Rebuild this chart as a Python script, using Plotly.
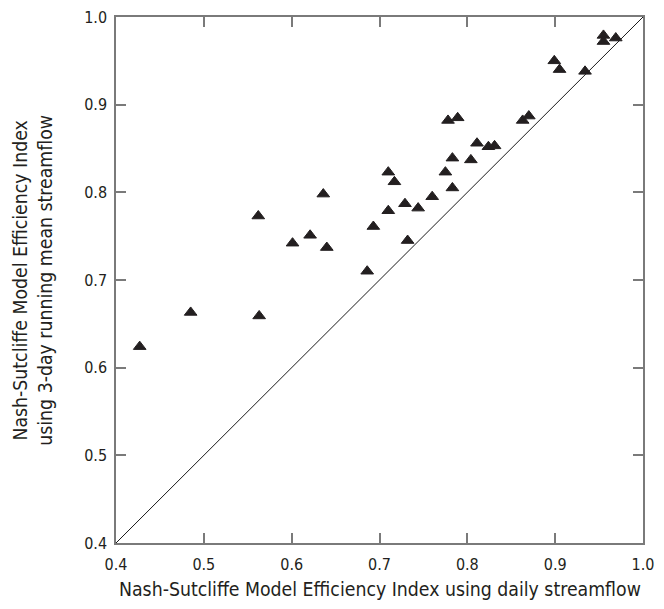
import plotly.graph_objects as go

# Data
nse_daily = [0.427, 0.485, 0.563, 0.562, 0.601, 0.621, 0.636, 0.640, 0.686, 0.693,
             0.710, 0.710, 0.717, 0.729, 0.732, 0.744, 0.760, 0.775, 0.778, 0.783,
             0.783, 0.789, 0.804, 0.811, 0.824, 0.831, 0.863, 0.870, 0.899, 0.905,
             0.934, 0.955, 0.955, 0.969]
nse_3day = [0.624, 0.663, 0.659, 0.773, 0.742, 0.751, 0.798, 0.737, 0.710, 0.761,
            0.823, 0.779, 0.812, 0.787, 0.745, 0.782, 0.795, 0.823, 0.882, 0.839,
            0.805, 0.885, 0.837, 0.856, 0.852, 0.853, 0.882, 0.887, 0.950, 0.940,
            0.938, 0.979, 0.972, 0.976]
one_to_one = [0.4, 1.0]
tick_vals = [0.4, 0.5, 0.6, 0.7, 0.8, 0.9, 1.0]
tick_text = ["0.4", "0.5", "0.6", "0.7", "0.8", "0.9", "1.0"]

x_title = "Nash-Sutcliffe Model Efficiency Index using daily streamflow"
y_title = "Nash-Sutcliffe Model Efficiency Index<br>using 3-day running mean streamflow"

FONT = "Liberation Sans Narrow, DejaVu Sans Condensed, Arial Narrow, Roboto, sans-serif"
AXIS_COLOR = "#7a7a7a"

fig = go.Figure()
fig.add_trace(go.Scatter(
    x=one_to_one, y=one_to_one, mode="lines",
    line=dict(color="#1a1a1a", width=1), hoverinfo="skip", showlegend=False))
fig.add_trace(go.Scatter(
    x=nse_daily, y=nse_3day, mode="markers",
    marker=dict(symbol="triangle-up", size=11, color="#231f20",
                line=dict(color="#231f20", width=1)),
    showlegend=False))

axis_common = dict(
    range=[0.4, 1.0], tickvals=tick_vals, ticktext=tick_text,
    showline=True, linecolor=AXIS_COLOR, linewidth=1.5, mirror="ticks",
    ticks="inside", ticklen=10, tickwidth=1.5, tickcolor=AXIS_COLOR,
    showgrid=False, zeroline=False, automargin=False,
    ticklabeloverflow="allow",
    tickfont=dict(family=FONT, size=16, color="#231f20"),
)
fig.update_xaxes(**axis_common, ticklabelstandoff=6)
fig.update_yaxes(**axis_common, ticklabelstandoff=4)

fig.add_annotation(
    text=x_title, xref="paper", yref="paper", x=0.5, y=-0.0875,
    xanchor="center", yanchor="middle", showarrow=False,
    font=dict(family=FONT, size=19.3, color="#231f20"))
fig.add_annotation(
    text=y_title, xref="paper", yref="paper", x=-0.158, y=0.5,
    xanchor="center", yanchor="middle", showarrow=False, textangle=-90,
    font=dict(family=FONT, size=19.3, color="#231f20"))

fig.update_layout(
    width=656, height=601,
    margin=dict(l=108, r=21, t=9, b=66, autoexpand=False),
    paper_bgcolor="white", plot_bgcolor="white",
    font=dict(family=FONT, color="#231f20"),
)

fig.write_html("out.html")
